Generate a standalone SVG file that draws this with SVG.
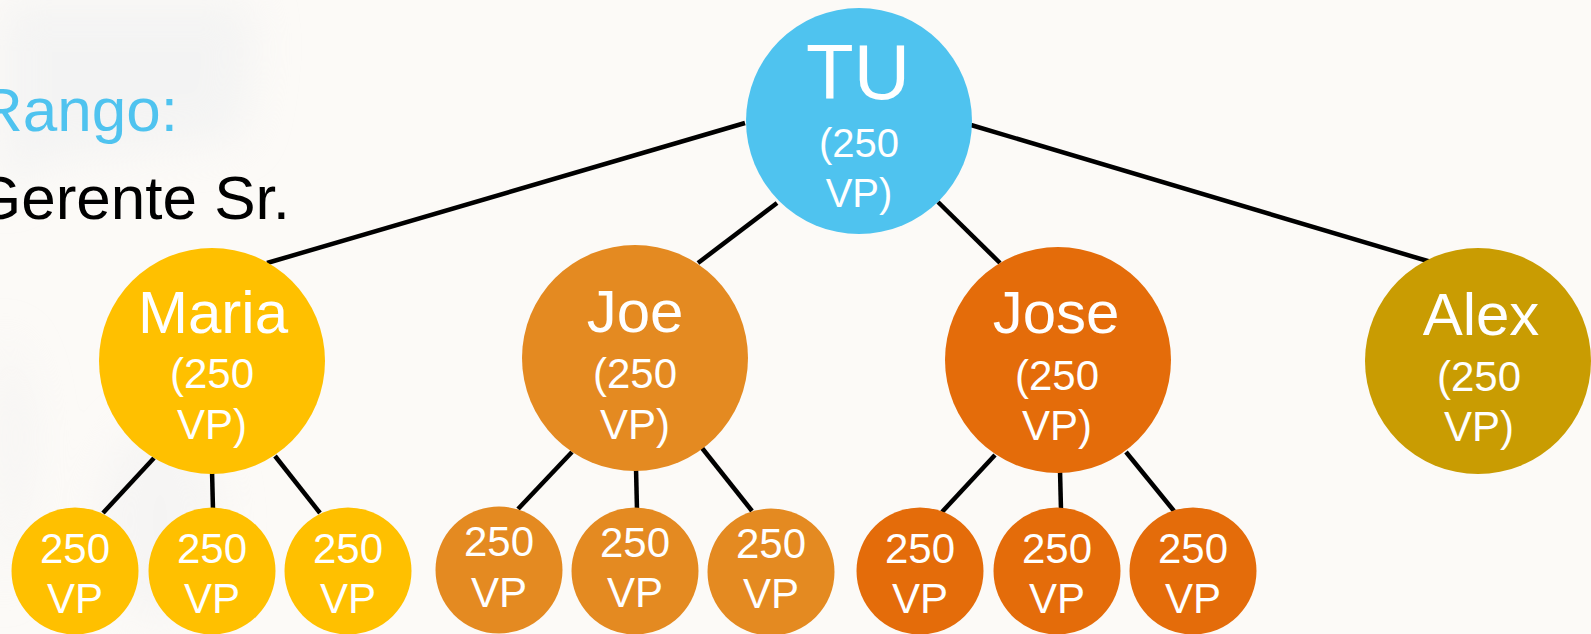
<svg xmlns="http://www.w3.org/2000/svg" width="1591" height="634" viewBox="0 0 1591 634">
<defs>
<style>
.bg{fill:#fcfaf7}
.conn line{stroke:#000;stroke-width:4.5;stroke-linecap:butt}
text{font-family:"Liberation Sans",Arial,sans-serif;text-anchor:middle;fill:#fff}
.big{font-size:78px}
.name{font-size:60px}
.sub{font-size:42px}
.tsub{font-size:40px}
.leaf{font-size:42px}
.blue{fill:#4fc3ef}
.yel{fill:#ffc000}
.org{fill:#e48a21}
.dor{fill:#e46c0a}
.gold{fill:#c99c02}
.hdr{text-anchor:start;font-size:62px}
</style>
<filter id="blur" x="-30%" y="-30%" width="160%" height="160%"><feGaussianBlur stdDeviation="22"/></filter>
</defs>
<rect class="bg" x="0" y="0" width="1591" height="634"/>
<g opacity="0.5" filter="url(#blur)">
<path d="M0 0 H250 Q262 60 240 140 Q160 150 60 160 Q20 175 0 200 Z" fill="#eceef0"/>
<path d="M0 330 Q40 380 30 470 Q20 560 0 600 Z" fill="#eeeeef"/>
<ellipse cx="160" cy="520" rx="60" ry="100" fill="#f0f0f1"/>
</g>
<text class="hdr" x="-22" y="131" style="fill:#4fc3ef">Rango:</text>
<text class="hdr" x="-27" y="219" style="fill:#000">Gerente Sr.</text>
<g id="connectors" class="conn">
<line x1="745" y1="123" x2="267" y2="263"/>
<line x1="777" y1="203" x2="698" y2="263"/>
<line x1="938" y1="202" x2="1000" y2="263"/>
<line x1="971" y1="125" x2="1431" y2="262"/>
<line x1="154" y1="458" x2="103" y2="513"/>
<line x1="212" y1="470" x2="213" y2="510"/>
<line x1="275" y1="456" x2="320" y2="513"/>
<line x1="572" y1="452" x2="518" y2="509"/>
<line x1="636" y1="468" x2="637" y2="510"/>
<line x1="702" y1="448" x2="752" y2="511"/>
<line x1="995" y1="455" x2="942" y2="512"/>
<line x1="1060" y1="470" x2="1061" y2="510"/>
<line x1="1126" y1="452" x2="1174" y2="511"/>
</g>
<g id="node-tu">
<circle class="blue" cx="859" cy="121" r="113"/>
<text class="big" x="858" y="99">TU</text>
<text class="tsub" x="859" y="157">(250</text>
<text class="tsub" x="859" y="207">VP)</text>
</g>
<g id="node-maria">
<circle class="yel" cx="212" cy="361" r="113"/>
<text class="name" x="213" y="333">Maria</text>
<text class="sub" x="212" y="388">(250</text>
<text class="sub" x="212" y="439">VP)</text>
</g>
<g id="node-joe">
<circle class="org" cx="635" cy="358" r="113"/>
<text class="name" x="635" y="332">Joe</text>
<text class="sub" x="635" y="388">(250</text>
<text class="sub" x="635" y="439">VP)</text>
</g>
<g id="node-jose">
<circle class="dor" cx="1058" cy="360" r="113"/>
<text class="name" x="1056" y="333">Jose</text>
<text class="sub" x="1057" y="390">(250</text>
<text class="sub" x="1057" y="440">VP)</text>
</g>
<g id="node-alex">
<circle class="gold" cx="1478" cy="361" r="113"/>
<text class="name" x="1481" y="335">Alex</text>
<text class="sub" x="1479" y="391">(250</text>
<text class="sub" x="1479" y="441">VP)</text>
</g>
<g id="leaf-m1"><circle class="yel" cx="75" cy="571" r="63.5"/><text class="leaf" x="75" y="563">250</text><text class="leaf" x="75" y="613">VP</text></g>
<g id="leaf-m2"><circle class="yel" cx="212" cy="571" r="63.5"/><text class="leaf" x="212" y="563">250</text><text class="leaf" x="212" y="613">VP</text></g>
<g id="leaf-m3"><circle class="yel" cx="348" cy="571" r="63.5"/><text class="leaf" x="348" y="563">250</text><text class="leaf" x="348" y="613">VP</text></g>
<g id="leaf-j1"><circle class="org" cx="499" cy="570" r="63.5"/><text class="leaf" x="499" y="556">250</text><text class="leaf" x="499" y="607">VP</text></g>
<g id="leaf-j2"><circle class="org" cx="635" cy="571" r="63.5"/><text class="leaf" x="635" y="557">250</text><text class="leaf" x="635" y="607">VP</text></g>
<g id="leaf-j3"><circle class="org" cx="771" cy="572" r="63.5"/><text class="leaf" x="771" y="558">250</text><text class="leaf" x="771" y="608">VP</text></g>
<g id="leaf-s1"><circle class="dor" cx="920" cy="571" r="63.5"/><text class="leaf" x="920" y="563">250</text><text class="leaf" x="920" y="613">VP</text></g>
<g id="leaf-s2"><circle class="dor" cx="1057" cy="571" r="63.5"/><text class="leaf" x="1057" y="563">250</text><text class="leaf" x="1057" y="613">VP</text></g>
<g id="leaf-s3"><circle class="dor" cx="1193" cy="571" r="63.5"/><text class="leaf" x="1193" y="563">250</text><text class="leaf" x="1193" y="613">VP</text></g>
</svg>
